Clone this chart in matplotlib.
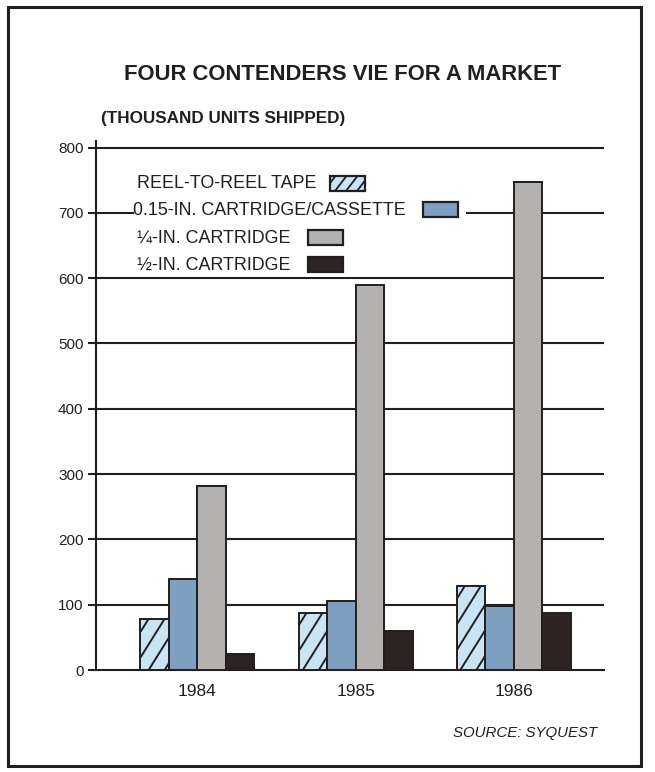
import matplotlib
matplotlib.use("Agg")
import matplotlib.pyplot as plt
from matplotlib.patches import Rectangle
from matplotlib.collections import LineCollection
from matplotlib.transforms import IdentityTransform
import numpy as np

plt.rcParams['font.family'] = ['Liberation Sans', 'DejaVu Sans']

# ---- data (thousand units shipped) ----
years = ["1984", "1985", "1986"]
series_names = ["REEL-TO-REEL TAPE", "0.15-IN. CARTRIDGE/CASSETTE",
                "¼-IN. CARTRIDGE", "½-IN. CARTRIDGE"]
reel_to_reel = [78, 88, 129]
cartridge_015 = [140, 106, 98]
cartridge_quarter = [282, 590, 747]
cartridge_half = [25, 60, 88]
y_ticks = [0, 100, 200, 300, 400, 500, 600, 700, 800]

INK = "#221e1e"
fills = ["#c9e5f5", "#7f9fc0", "#b4b2b1", "#2c2323"]
slanted = [True, False, False, False]

W, H = 655, 772
fig = plt.figure(figsize=(W / 100, H / 100), dpi=100)
fig.patch.set_facecolor("white")


def fx(px):
    return px / W


def fy(py):
    return 1 - py / H


def slant_hatch(patch, owner, spacing=16.0, slope=1.6, lw=1.4):
    """Steep diagonal hatching inside a rectangle, cut to its edges."""
    x0, y0, x1, y1 = patch.get_extents().extents
    h = y1 - y0
    segs = []
    xs = x0 - h / slope + spacing * 0.5
    while xs < x1:
        # line: x = xs + (y - y0) / slope
        lo = max(y0, y0 + (x0 - xs) * slope)
        hi = min(y1, y0 + (x1 - xs) * slope)
        if hi > lo:
            segs.append([(xs + (lo - y0) / slope, lo),
                         (xs + (hi - y0) / slope, hi)])
        xs += spacing
    lc = LineCollection(segs, colors=INK, linewidths=lw,
                        transform=IdentityTransform(),
                        zorder=patch.get_zorder() + 0.05)
    owner(lc)


# plotting area
ax = fig.add_axes([fx(96), fy(670), fx(604) - fx(96), fy(141) - fy(670)])
ax.set_facecolor("none")

values = [reel_to_reel, cartridge_015, cartridge_quarter, cartridge_half]
x = np.arange(len(years))
bw = 0.18
containers = []
for i, vals in enumerate(values):
    bc = ax.bar(x + (i - 1.5) * bw, vals, width=bw, color=fills[i],
                edgecolor=INK, linewidth=1.4, zorder=3)
    containers.append(bc)

ax.set_ylim(0, 810)
ax.set_xlim(-0.641, 2.569)

for i, bc in enumerate(containers):
    if slanted[i]:
        for rect in bc.patches:
            slant_hatch(rect, fig.add_artist)

for s in ["top", "right"]:
    ax.spines[s].set_visible(False)
ax.spines["left"].set_color(INK)
ax.spines["left"].set_linewidth(1.5)
ax.spines["bottom"].set_color(INK)
ax.spines["bottom"].set_linewidth(1.5)

ax.set_yticks(y_ticks)
ax.set_yticklabels([str(t) for t in y_ticks], fontsize=11, color=INK)
ax.tick_params(axis="y", length=6, width=1.5, color=INK, pad=3, direction="out")
ax.set_xticks(x)
ax.set_xticklabels(years, fontsize=12.5, color=INK)
ax.tick_params(axis="x", length=0, pad=10)

# legend block (text followed by swatch), laid out in figure pixels
leg_rows = [184, 210, 238, 265]
leg_text_x = [137, 133, 137, 137]
leg_patch_x = [330, 423, 308, 308]
for i, name in enumerate(series_names):
    fig.text(fx(leg_text_x[i]), fy(leg_rows[i]), name, fontsize=12.9,
             color=INK, va="center", ha="left")
    sw = Rectangle((fx(leg_patch_x[i]), fy(leg_rows[i] + 7)),
                   fx(35), 15 / H, transform=fig.transFigure,
                   facecolor=fills[i], edgecolor=INK, linewidth=1.6, zorder=5)
    fig.add_artist(sw)
    if slanted[i]:
        slant_hatch(sw, fig.add_artist, spacing=11.0, slope=1.3, lw=1.3)

# horizontal rules; the 700 rule is broken by the legend entry
for t in y_ticks[1:]:
    if t == 700:
        ax.axhline(t, xmin=0, xmax=(133 - 96) / (604 - 96), color=INK,
                   linewidth=1.5, zorder=1)
        ax.axhline(t, xmin=(467 - 96) / (604 - 96), xmax=1, color=INK,
                   linewidth=1.5, zorder=1)
    else:
        ax.axhline(t, color=INK, linewidth=1.5, zorder=1)

fig.text(fx(343), fy(74), "FOUR CONTENDERS VIE FOR A MARKET", fontsize=15.8,
         fontweight="bold", color=INK, ha="center", va="center")
fig.text(fx(101), fy(118), "(THOUSAND UNITS SHIPPED)", fontsize=12.3,
         fontweight="bold", color=INK, ha="left", va="center")
fig.text(fx(597), fy(733), "SOURCE: SYQUEST", fontsize=10.8, style="italic",
         color=INK, ha="right", va="center")

# outer frame
fig.add_artist(Rectangle((fx(8), fy(766)), fx(641) - fx(8), fy(7) - fy(766),
                         transform=fig.transFigure, fill=False,
                         edgecolor=INK, linewidth=2.2, zorder=10))

fig.savefig("out.png", dpi=100)
